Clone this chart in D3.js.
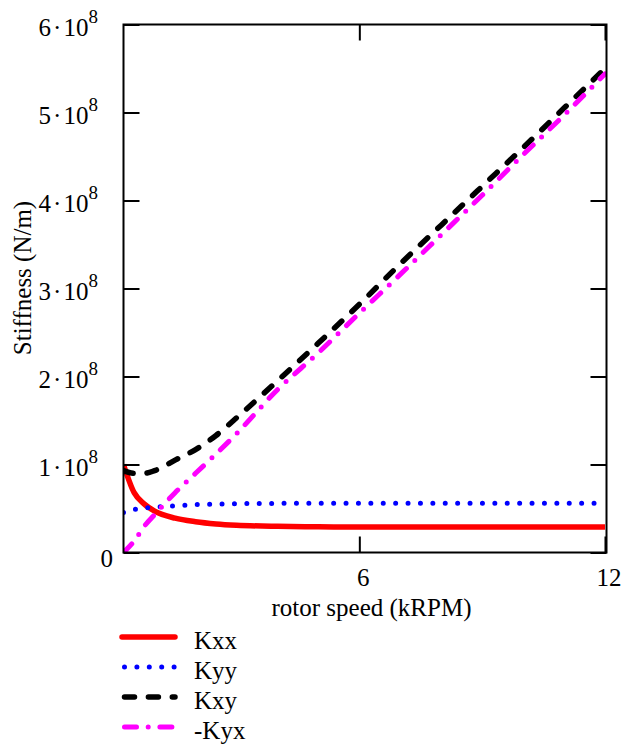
<!DOCTYPE html>
<html>
<head>
<meta charset="utf-8">
<script src="https://cdn.jsdelivr.net/npm/d3@7"></script>
<style>
  html, body { margin: 0; padding: 0; background: #fff; }
  svg { display: block; }
</style>
</head>
<body>
<svg id="chart" width="623" height="749" font-family="'Liberation Serif', 'Times New Roman', Times, 'DejaVu Serif', serif"></svg>
<script>
// ---- data (stiffness in units of 1e8 N/m) ----
const speed = [0.24, 0.5, 0.75, 1, 1.5, 2, 2.5, 3, 4, 5, 6, 7, 8, 9, 10, 11, 12];
const Kxx   = [1.0, 0.68, 0.55, 0.47, 0.39, 0.35, 0.325, 0.31, 0.297, 0.292, 0.29, 0.29, 0.29, 0.29, 0.29, 0.29, 0.29];
const Kyy   = [0.455, 0.49, 0.505, 0.515, 0.53, 0.545, 0.55, 0.555, 0.558, 0.56, 0.56, 0.56, 0.56, 0.56, 0.56, 0.56, 0.56];
const Kxy   = [0.93, 0.9, 0.9, 0.93, 1.05, 1.17, 1.33, 1.53, 1.95, 2.38, 2.82, 3.28, 3.72, 4.16, 4.6, 5.05, 5.5];
const mKyx  = [0.0, 0.13, 0.3, 0.43, 0.68, 0.9, 1.12, 1.35, 1.85, 2.27, 2.72, 3.16, 3.61, 4.06, 4.52, 4.97, 5.44];
const seriesNames = ["Kxx", "Kyy", "Kxy", "-Kyx"];
const yTickMant = [0, 1, 2, 3, 4, 5, 6];   // ×10^8
const yTickExp = 8;
const xTicks = [6, 12];
const xTitle = "rotor speed (kRPM)";
const yTitle = "Stiffness (N/m)";

// ---- layout ----
const svg = d3.select("#chart");
const L = 123.5, R = 606.5, T = 24.5, B = 552.5;
const x = d3.scaleLinear().domain([0.24, 12.037]).range([L, R]);
const y = d3.scaleLinear().domain([0, 6e8]).range([B, T]);

const styles = [
  { color: "#ff0000", width: 5.5, dash: null,              cap: "butt"  },
  { color: "#0000ff", width: 5,   dash: "0 12.4",          cap: "round" },
  { color: "#000000", width: 5.5, dash: "10 13.9",         cap: "round" },
  { color: "#ff00ff", width: 5,   dash: "12 11.7 0 11.7",  cap: "round" }
];
const allSeries = [Kxx, Kyy, Kxy, mKyx];

svg.append("defs").append("clipPath").attr("id", "plotclip")
  .append("rect").attr("x", L).attr("y", T).attr("width", R - L).attr("height", B - T);

// ---- lines ----
const line = d3.line()
  .x(d => x(d[0])).y(d => y(d[1] * 1e8))
  .curve(d3.curveMonotoneX);

const gLines = svg.append("g").attr("clip-path", "url(#plotclip)");
allSeries.forEach((vals, i) => {
  const st = styles[i];
  gLines.append("path")
    .datum(speed.map((s, j) => [s, vals[j]]))
    .attr("d", line)
    .attr("fill", "none")
    .attr("stroke", st.color)
    .attr("stroke-width", st.width)
    .attr("stroke-linecap", st.cap)
    .attr("stroke-linejoin", "round")
    .attr("stroke-dasharray", st.dash);
});

// ---- axes (ticks inside, mirrored) ----
const yVals = yTickMant.map(m => m * 1e8);
function styleAxis(g) {
  g.attr("font-family", null).attr("font-size", null);
  g.select(".domain").remove();
  g.selectAll(".tick line").attr("stroke", "#000").attr("stroke-width", 2);
  g.selectAll(".tick text").remove();
}
svg.append("g").attr("transform", `translate(${L},0)`)
  .call(d3.axisLeft(y).tickValues(yVals).tickSize(-16).tickFormat(""))
  .call(styleAxis);
svg.append("g").attr("transform", `translate(${R},0)`)
  .call(d3.axisRight(y).tickValues(yVals).tickSize(-16).tickFormat(""))
  .call(styleAxis);
svg.append("g").attr("transform", `translate(0,${B})`)
  .call(d3.axisBottom(x).tickValues(xTicks).tickSize(-16).tickFormat(""))
  .call(styleAxis);
svg.append("g").attr("transform", `translate(0,${T})`)
  .call(d3.axisTop(x).tickValues(xTicks).tickSize(-16).tickFormat(""))
  .call(styleAxis);

// frame
svg.append("rect")
  .attr("x", L).attr("y", T).attr("width", R - L).attr("height", B - T)
  .attr("fill", "none").attr("stroke", "#000").attr("stroke-width", 2);

// ---- y tick labels ----
const yLab = svg.append("g");
yTickMant.forEach(m => {
  const yy = y(m * 1e8);
  if (m === 0) {
    yLab.append("text").attr("x", 113).attr("y", yy + 14)
      .attr("text-anchor", "end").attr("font-size", 25).text("0");
  } else {
    const t = yLab.append("text").attr("x", 98).attr("y", yy + 11)
      .attr("text-anchor", "end").attr("font-size", 25);
    t.append("tspan").text(m + "\u200A\u00B7\u200A10");
    t.append("tspan").attr("dy", -13).attr("font-size", 19).text(yTickExp);
  }
});

// ---- x tick labels ----
svg.append("g").selectAll("text").data(xTicks).join("text")
  .attr("x", d => x(d) + 4).attr("y", B + 33)
  .attr("text-anchor", "middle").attr("font-size", 25)
  .text(d => d);

// ---- titles ----
svg.append("text").attr("x", 371.5).attr("y", 616)
  .attr("text-anchor", "middle").attr("font-size", 25).text(xTitle);
svg.append("text")
  .attr("transform", `translate(31,278) rotate(-90)`)
  .attr("text-anchor", "middle").attr("font-size", 25).text(yTitle);

// ---- legend ----
const legY = [637, 667, 697, 727];
const leg = svg.append("g");
seriesNames.forEach((name, i) => {
  const st = styles[i];
  leg.append("line")
    .attr("x1", i === 0 ? 122 : 124.5).attr("x2", 175)
    .attr("y1", legY[i]).attr("y2", legY[i])
    .attr("stroke", st.color).attr("stroke-width", st.width)
    .attr("stroke-linecap", i === 0 ? "round" : st.cap)
    .attr("stroke-dasharray", st.dash);
  leg.append("text").attr("x", 194).attr("y", legY[i] + 12)
    .attr("font-size", 25).text(name);
});
</script>
</body>
</html>
